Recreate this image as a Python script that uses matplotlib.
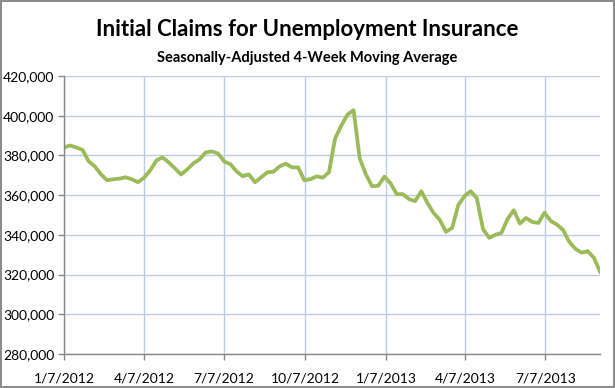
import matplotlib
matplotlib.use("Agg")
import matplotlib.pyplot as plt
import numpy as np
import pandas as pd

plt.rcParams['font.family'] = ['Lato', 'DejaVu Sans']

# weekly 4-week moving average of initial claims, starting 1/7/2012
dates = pd.date_range("2012-01-07", periods=88, freq="7D")
claims = [
    384000, 385000, 384000, 382800, 377000, 374500, 370500, 367500, 368000, 368300,
    369000, 368000, 366500, 368800, 372500, 377500, 379000, 376500, 373500, 370400,
    373000, 376000, 378000, 381500, 382000, 381000, 377000, 375600, 372000, 369500,
    370500, 366500, 369000, 371500, 371800, 374500, 375800, 374000, 374000, 367500,
    368000, 369500, 368800, 371500, 388500, 395000, 400500, 402800, 378500, 370500,
    364500, 364700, 369300, 366000, 360500, 360500, 358000, 357000, 362000, 356000,
    351000, 347500, 341500, 343500, 355000, 359500, 362000, 358500, 343000, 338500,
    340000, 341000, 348000, 352400, 345700, 348500, 346500, 346000, 351200, 347000,
    345200, 342500, 336500, 333000, 331000, 331800, 328500, 321500,
]

tick_dates = pd.to_datetime(["2012-01-07", "2012-04-07", "2012-07-07", "2012-10-07",
                             "2013-01-07", "2013-04-07", "2013-07-07"])
tick_labels = ["1/7/2012", "4/7/2012", "7/7/2012", "10/7/2012",
               "1/7/2013", "4/7/2013", "7/7/2013"]

fig = plt.figure(figsize=(6.15, 3.88), dpi=100, edgecolor="#8c8c8c", linewidth=1.5)
ax = fig.add_axes([64/615, 1-354/388, 536/615, 278/388])

ax.plot(dates, claims, color="#9BBB59", linewidth=2.7, solid_joinstyle="round")

ax.set_xlim(dates[0], dates[-1])
ax.set_ylim(280000, 420000)
ax.set_yticks(np.arange(280000, 420001, 20000))
ax.yaxis.set_major_formatter(matplotlib.ticker.FuncFormatter(lambda v, p: f"{v:,.0f}"))
ax.set_xticks(tick_dates)
ax.set_xticklabels(tick_labels)

ax.grid(True, color="#BCCBE6", linewidth=1)
ax.set_axisbelow(True)
for s in ["top", "right"]:
    ax.spines[s].set_visible(False)
for s in ["left", "bottom"]:
    ax.spines[s].set_color("#868686")
    ax.spines[s].set_linewidth(1)
ax.tick_params(axis="both", colors="#868686", length=4, width=1, labelsize=10, labelcolor="black")
ax.tick_params(axis="x", pad=9)
ax.tick_params(axis="y", pad=3)

fig.text(0.5, 1-30/388, "Initial Claims for Unemployment Insurance", ha="center", va="center",
         fontsize=16, fontweight="bold")
fig.text(0.5, 1-58/388, "Seasonally-Adjusted 4-Week Moving Average", ha="center", va="center",
         fontsize=10.5, fontweight="bold")

fig.savefig("out.png", dpi=100, edgecolor=fig.get_edgecolor())
